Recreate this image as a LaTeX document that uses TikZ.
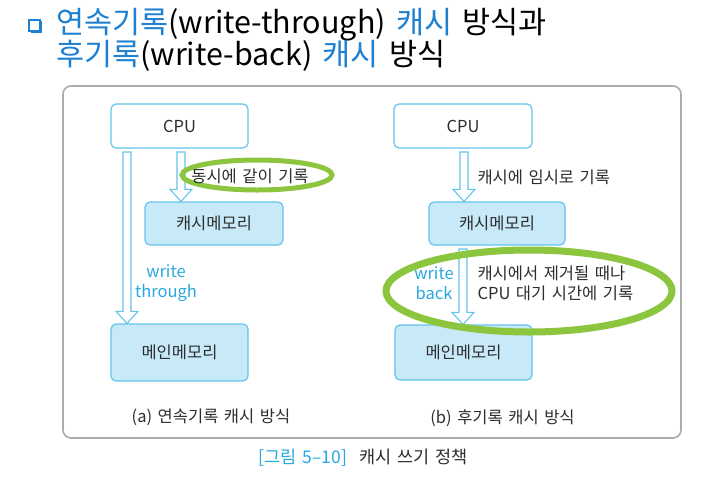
\documentclass[tikz,border=0pt]{standalone}
\usepackage{fontspec}
\setmainfont{Noto Sans CJK KR}[WordSpace=1.5]
\usetikzlibrary{calc}

\definecolor{titleblue}{RGB}{30,128,208}
\definecolor{lineblue}{RGB}{100,196,236}
\definecolor{boxfill}{RGB}{200,233,248}
\definecolor{textblue}{RGB}{40,168,224}
\definecolor{ringgreen}{RGB}{140,198,63}
\definecolor{inkgray}{RGB}{45,45,45}

\tikzset{
  box/.style={draw=lineblue, line width=1.2pt, rounded corners=5pt, fill=boxfill, text=inkgray, font=\fontsize{16.5}{18}\selectfont},
  cpubox/.style={box, fill=white},
  label/.style={font=\fontsize{16.5}{20}\selectfont, text=inkgray, align=left},
  hollow/.style={draw=lineblue, line width=1.1pt, fill=white, line join=miter},
  ring/.style={draw=ringgreen, line width=6pt}
}

% hollow block arrow from #1 down to tip #2
\newcommand{\hollowarrow}[2]{%
  \draw[hollow] ($(#1)+(-4,0)$) -- ($(#1)+(4,0)$) -- ($(#2)+(4,-12)$)
    -- ($(#2)+(11,-12)$) -- (#2) -- ($(#2)+(-11,-12)$) -- ($(#2)+(-4,-12)$) -- cycle;}

\begin{document}
\begin{tikzpicture}[x=1pt, y=-1pt]

% background and frame
\fill[white] (0,0) rectangle (702,483);
\draw[gray!65, line width=1.6pt, rounded corners=8pt] (63,86) rectangle (681,438);

% title
\node (t1) [anchor=west, font=\fontsize{30.5}{31}\selectfont, inner sep=0] at (56,25)
  {{\color{titleblue}연속기록}(write-through) {\color{titleblue}캐시} 방식과};
\node (t2) [anchor=west, font=\fontsize{30.5}{31}\selectfont, inner sep=0] at (56,56)
  {{\color{titleblue}후기록}(write-back) {\color{titleblue}캐시} 방식};
\draw[titleblue, line width=1.3pt] (29,20) rectangle (40,31);
\draw[titleblue, line width=1.3pt] (30.5,32) -- (41.5,32) -- (41.5,21);

% (a) write-through
\node (cpuA) [cpubox, minimum width=137, minimum height=44] at (179.5,126) {CPU};
\node (cacheA) [box, minimum width=138, minimum height=43] at (214,223.5) {캐시메모리};
\node (memA) [box, minimum width=137, minimum height=57] at (179.5,352.5) {메인메모리};
\coordinate (a1s) at (127,152);
\coordinate (a1e) at (a1s |- memA.north);
\coordinate (a2s) at (181,152);
\coordinate (a2e) at (a2s |- cacheA.north);
\hollowarrow{a1s}{a1e}
\hollowarrow{a2s}{a2e}
\draw[ring, line width=5pt] (257,175) ellipse [x radius=75pt, y radius=15pt];
\node (syncA) [label] at (250,176) {동시에 같이 기록};
\node (wtA) [label, align=center, text=textblue] at (166,283) {write\\through};
\node (capA) [label] at (211,417) {(a) 연속기록 캐시 방식};

% (b) write-back
\node (cpuB) [cpubox, minimum width=138, minimum height=44] at (463,126) {CPU};
\node (cacheB) [box, minimum width=136, minimum height=43] at (497,223.5) {캐시메모리};
\node (memB) [box, minimum width=137, minimum height=55] at (463.5,352.5) {메인메모리};
\coordinate (b1s) at (464,152);
\coordinate (b1e) at (b1s |- cacheB.north);
\coordinate (b2s) at (463,249);
\coordinate (b2e) at (b2s |- memB.north);
\hollowarrow{b1s}{b1e}
\hollowarrow{b2s}{b2e}
\node (tmpB) [label, anchor=west] at (474,177) {캐시에 임시로 기록};
\draw[ring, line width=7pt] (529,291) ellipse [x radius=143pt, y radius=41pt];
\node (wbB) [label, align=center, text=textblue] at (434,283) {write\\back};
\node (laterB) [label, anchor=west] at (474,283) {캐시에서 제거될 때나\\CPU 대기 시간에 기록};
\node (capB) [label] at (502.5,418) {(b) 후기록 캐시 방식};

% figure caption
\node (fig) [font=\fontsize{17.5}{18}\selectfont, text=inkgray] at (363,458)
  {{\color{textblue}[그림 5–10]}\hspace{12pt}캐시 쓰기 정책};

\end{tikzpicture}
\end{document}
